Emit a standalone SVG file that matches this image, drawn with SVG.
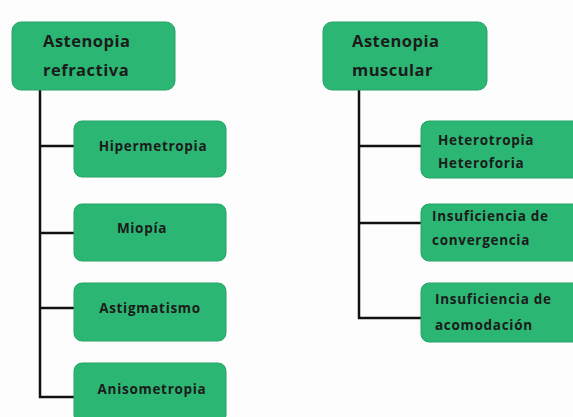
<svg xmlns="http://www.w3.org/2000/svg" width="573" height="417" viewBox="0 0 573 417">
<style>
.box{fill:#2bb673;stroke:#24a466;stroke-width:1}
.t{font-family:"Open Sans","Liberation Sans",sans-serif;font-weight:bold;fill:#1b1b1b}
.p{font-size:16.5px;letter-spacing:0.5px}
.c{font-size:13.5px;letter-spacing:0.7px}
.ln{stroke:#111;stroke-width:2.5;fill:none}
</style>
<rect width="573" height="417" fill="#fdfdfd"/>
<g id="connectors">
<path class="ln" d="M40 90 V397 H76 M40 146 H76 M40 233 H76 M40 308 H76"/>
<path class="ln" d="M359 90 V318 H422 M359 146 H422 M359 223 H422"/>
</g>
<g id="n-refractiva">
<rect class="box" x="12" y="22" width="163" height="68" rx="9"/>
<text class="t p" x="43" y="47">Astenopia</text>
<text class="t p" x="43" y="76">refractiva</text>
</g>
<g id="n-hipermetropia">
<rect class="box" x="74" y="121" width="152" height="56" rx="8"/>
<text class="t c" x="153" y="151" text-anchor="middle">Hipermetropia</text>
</g>
<g id="n-miopia">
<rect class="box" x="74" y="204" width="152" height="57" rx="8"/>
<text class="t c" x="142" y="233" text-anchor="middle">Miopía</text>
</g>
<g id="n-astigmatismo">
<rect class="box" x="74" y="283" width="152" height="58" rx="8"/>
<text class="t c" x="150" y="313" text-anchor="middle">Astigmatismo</text>
</g>
<g id="n-anisometropia">
<rect class="box" x="74" y="363" width="152" height="60" rx="8"/>
<text class="t c" x="152" y="394" text-anchor="middle">Anisometropia</text>
</g>
<g id="n-muscular">
<rect class="box" x="323" y="22" width="164" height="68" rx="9"/>
<text class="t p" x="352" y="47">Astenopia</text>
<text class="t p" x="352" y="76">muscular</text>
</g>
<g id="n-hetero">
<rect class="box" x="421" y="121" width="160" height="57" rx="8"/>
<text class="t c" x="438" y="145">Heterotropia</text>
<text class="t c" x="438" y="168">Heteroforia</text>
</g>
<g id="n-convergencia">
<rect class="box" x="421" y="204" width="160" height="57" rx="8"/>
<text class="t c" x="432" y="221">Insuficiencia de</text>
<text class="t c" x="432" y="245">convergencia</text>
</g>
<g id="n-acomodacion">
<rect class="box" x="421" y="283" width="160" height="59" rx="8"/>
<text class="t c" x="435" y="304">Insuficiencia de</text>
<text class="t c" x="435" y="330">acomodación</text>
</g>
</svg>
